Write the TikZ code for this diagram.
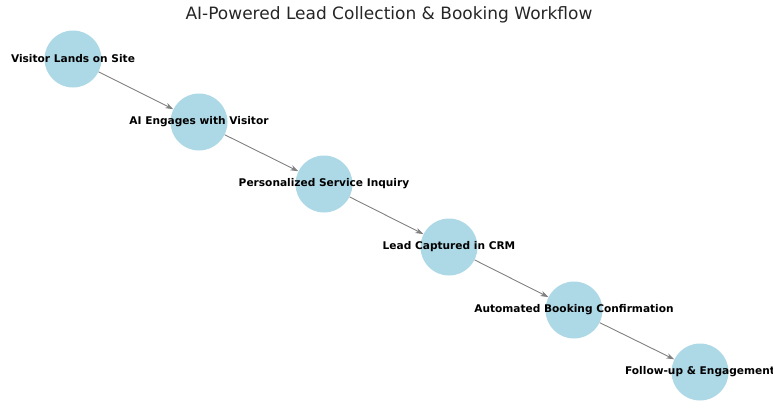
\documentclass[tikz,border=0pt]{standalone}
\usepackage{fontspec}
\setmainfont{DejaVu Sans}
\usetikzlibrary{arrows.meta}
\definecolor{nodeblue}{HTML}{ADD8E6}
\definecolor{edgegray}{HTML}{808080}
\definecolor{titleink}{HTML}{262626}

\begin{document}
\begin{tikzpicture}[x=1pt,y=-1pt,
    stage/.style={circle,fill=nodeblue,minimum size=57pt,inner sep=0pt},
    stagetext/.style={font=\bfseries\fontsize{10.6}{12}\selectfont,inner sep=0pt},
    flow/.style={draw=edgegray,line width=0.9pt,-{Stealth[length=8pt,width=5.5pt]}}]
  \useasboundingbox (0,0) rectangle (773,413);
  \clip (0,0) rectangle (773,413);
  \foreach \i/\x/\y in {1/73/59,2/199/122,3/324/184,4/449/247,5/574/310,6/700/372}{
    \node[stage] (s\i) at (\x,\y) {};}
  \foreach \a/\b in {1/2,2/3,3/4,4/5,5/6}{
    \draw[flow] (s\a) -- (s\b);}
  \foreach \i/\lab in {1/{Visitor Lands on Site},2/{AI Engages with Visitor},3/{Personalized Service Inquiry},
      4/{Lead Captured in CRM},5/{Automated Booking Confirmation},6/{Follow-up \& Engagement}}{
    \node[stagetext] (t\i) at (s\i) {\lab};}
  \node[font=\fontsize{17}{20}\selectfont,color=titleink] (title) at (389,15) {AI-Powered Lead Collection \& Booking Workflow};
\end{tikzpicture}
\end{document}
